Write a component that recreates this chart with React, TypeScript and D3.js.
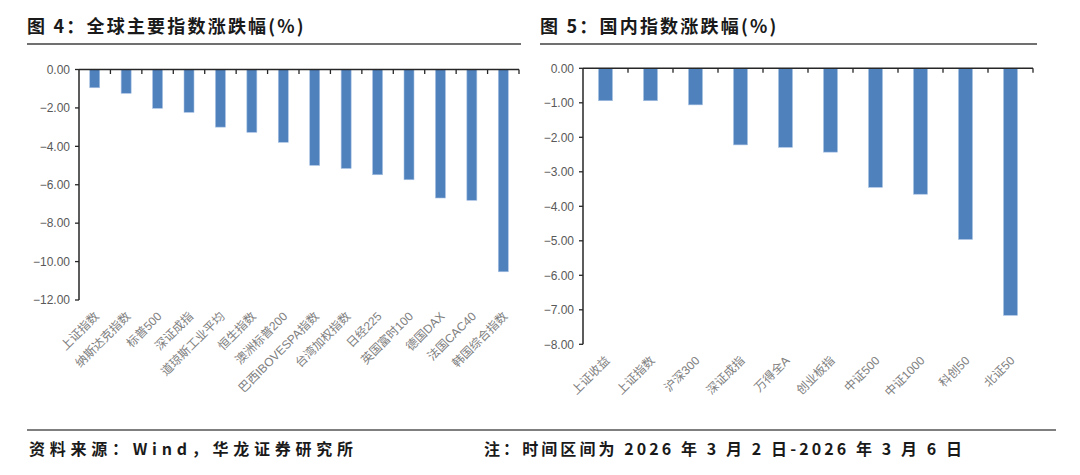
import * as d3 from "d3";

const globalNames = [
  "上证指数", "纳斯达克指数", "标普500", "深证成指", "道琼斯工业平均", "恒生指数",
  "澳洲标普200", "巴西IBOVESPA指数", "台湾加权指数", "日经225", "英国富时100",
  "德国DAX", "法国CAC40", "韩国综合指数",
];
const globalValues = [-0.95, -1.24, -2.02, -2.23, -3.0, -3.27, -3.79, -4.99, -5.15, -5.48, -5.74, -6.69, -6.81, -10.53];
const globalTicks = [0, -2, -4, -6, -8, -10, -12];

const domesticNames = [
  "上证收益", "上证指数", "沪深300", "深证成指", "万得全A", "创业板指",
  "中证500", "中证1000", "科创50", "北证50",
];
const domesticValues = [-0.94, -0.94, -1.06, -2.22, -2.29, -2.43, -3.45, -3.65, -4.96, -7.16];
const domesticTicks = [0, -1, -2, -3, -4, -5, -6, -7, -8];

const fmt = d3.format(".2f");
const labelFont = "'Liberation Sans', 'Noto Sans CJK SC', sans-serif";
const cjkFont = "'Noto Sans CJK SC', sans-serif";

type PanelProps = {
  names: string[];
  values: number[];
  ticks: number[];
  x0: number;
  x1: number;
  yTop: number;
  yBottom: number;
  barWidth: number;
};

function BarPanel({ names, values, ticks, x0, x1, yTop, yBottom, barWidth }: PanelProps) {
  const xScale = d3.scaleBand().domain(names).range([x0, x1]).padding(0);
  const yScale = d3
    .scaleLinear()
    .domain([d3.min(ticks) as number, 0])
    .range([yBottom, yTop]);
  const bw = xScale.bandwidth();
  const y0 = yScale(0);

  return (
    <g>
      {/* bars */}
      {names.map((n, i) => {
        const cx = (xScale(n) as number) + bw / 2;
        const y = yScale(values[i]);
        return (
          <rect
            key={n}
            x={cx - barWidth / 2}
            y={y0}
            width={barWidth}
            height={y - y0}
            fill="#4f81bd"
            stroke="#a9c2e3"
            strokeWidth={0.6}
          />
        );
      })}
      {/* y axis */}
      <line x1={x0} x2={x0} y1={yTop} y2={yBottom} stroke="#262626" strokeWidth={1.5} />
      {ticks.map((t) => (
        <g key={t}>
          <line x1={x0 - 4} x2={x0} y1={yScale(t)} y2={yScale(t)} stroke="#262626" strokeWidth={1.3} />
          <text
            x={x0 - 9}
            y={yScale(t)}
            dy="0.35em"
            textAnchor="end"
            fontSize={12}
            fill="#595959"
            fontFamily={labelFont}
          >
            {fmt(t)}
          </text>
        </g>
      ))}
      {/* x axis at zero */}
      <line x1={x0} x2={x1} y1={y0} y2={y0} stroke="#262626" strokeWidth={1.5} />
      {names.map((n, i) => (
        <line
          key={"t" + i}
          x1={(xScale(n) as number) + bw}
          x2={(xScale(n) as number) + bw}
          y1={y0}
          y2={y0 + 4.5}
          stroke="#262626"
          strokeWidth={1.3}
        />
      ))}
      {/* category labels */}
      {names.map((n) => {
        const cx = (xScale(n) as number) + bw / 2 + 5;
        const ly = yBottom + 17;
        return (
          <text
            key={"l" + n}
            x={cx}
            y={ly}
            transform={`rotate(-45 ${cx} ${ly})`}
            textAnchor="end"
            fontSize={12}
            fill="#808080"
            fontFamily={labelFont}
          >
            {n}
          </text>
        );
      })}
    </g>
  );
}

export default function App() {
  return (
    <svg width={1080} height={475} style={{ position: "absolute", left: 0, top: 0, background: "#fff" }}>
      <rect width={1080} height={475} fill="#fff" />
      {/* titles */}
      <text x={27} y={33} fontSize={18} fontWeight="bold" fill="#1a1a1a" fontFamily={cjkFont} letterSpacing={2.2}>
        图 4：全球主要指数涨跌幅(%)
      </text>
      <line x1={27} x2={521} y1={44} y2={44} stroke="#404040" strokeWidth={1.3} />
      <text x={540} y={33} fontSize={18} fontWeight="bold" fill="#1a1a1a" fontFamily={cjkFont} letterSpacing={2.2}>
        图 5：国内指数涨跌幅(%)
      </text>
      <line x1={540} x2={1037} y1={44} y2={44} stroke="#404040" strokeWidth={1.3} />

      <BarPanel
        names={globalNames}
        values={globalValues}
        ticks={globalTicks}
        x0={79}
        x1={519}
        yTop={69.5}
        yBottom={300}
        barWidth={10}
      />
      <BarPanel
        names={domesticNames}
        values={domesticValues}
        ticks={domesticTicks}
        x0={583}
        x1={1033}
        yTop={68.3}
        yBottom={344.3}
        barWidth={14}
      />

      {/* footer */}
      <line x1={27} x2={1056} y1={430} y2={430} stroke="#555" strokeWidth={1.5} />
      <text x={29} y={455} fontSize={16} fontWeight="bold" fill="#1a1a1a" fontFamily={cjkFont} textLength={324} lengthAdjust="spacing">
        资料来源：Wind，华龙证券研究所
      </text>
      <text x={484} y={455} fontSize={16} fontWeight="bold" fill="#1a1a1a" fontFamily={cjkFont} textLength={478} lengthAdjust="spacing">
        注：时间区间为 2026 年 3 月 2 日-2026 年 3 月 6 日
      </text>
    </svg>
  );
}
